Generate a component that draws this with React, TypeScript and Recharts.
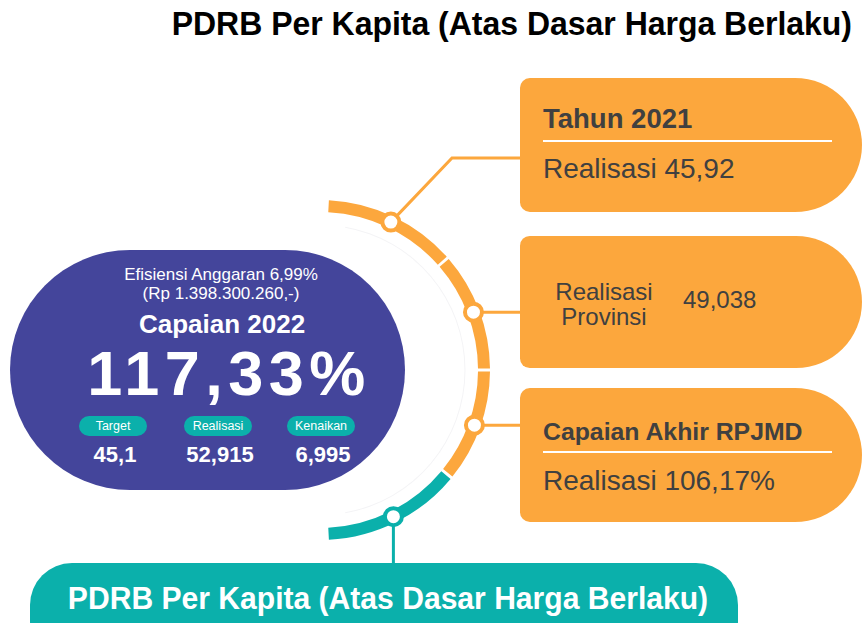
import React from "react";
import { PieChart, Pie, Cell } from "recharts";

// arc segments around the capsule (degrees of sweep each), top to bottom
const stages = ["Tahun 2021", "Realisasi Provinsi", "Capaian Akhir RPJMD", "PDRB Per Kapita"];
const arcSpans = [46, 41, 39, 48];

const titleText = "PDRB Per Kapita (Atas Dasar Harga Berlaku)";
const efisiensiLines = ["Efisiensi Anggaran 6,99%", "(Rp 1.398.300.260,-)"];
const capaianLabel = "Capaian 2022";
const capaianValue = "117,33%";
const tagLabels = ["Target", "Realisasi", "Kenaikan"];
const tagValues = ["45,1", "52,915", "6,995"];

const tahunLabel = "Tahun 2021";
const tahunValue = "Realisasi 45,92";
const provinsiLabel = ["Realisasi", "Provinsi"];
const provinsiValue = "49,038";
const rpjmdLabel = "Capaian Akhir RPJMD";
const rpjmdValue = "Realisasi 106,17%";

const ORANGE = "#fca73d";
const TEAL = "#0bb0ab";
const PURPLE = "#44459b";
const DARK = "#404040";
const arcColors = [ORANGE, ORANGE, ORANGE, TEAL];

const SANS = '"Liberation Sans", Arial, sans-serif';

// text placed by the centre of its capitals
function T({
  x,
  y,
  size,
  bold,
  color = "#fff",
  anchor = "start",
  spacing = 0,
  sx = 1,
  children,
}: {
  x: number;
  y: number;
  size: number;
  bold?: boolean;
  color?: string;
  anchor?: "start" | "middle" | "end";
  spacing?: number;
  sx?: number;
  children: React.ReactNode;
}) {
  const shift = anchor === "middle" ? "translateX(-50%)" : anchor === "end" ? "translateX(-100%)" : "";
  const origin = anchor === "middle" ? "center" : anchor === "end" ? "right" : "left";
  return (
    <div
      style={{
        position: "absolute",
        left: x,
        top: y - 0.49 * size,
        fontSize: size,
        lineHeight: 1,
        fontWeight: bold ? 700 : 400,
        color,
        fontFamily: SANS,
        whiteSpace: "nowrap",
        letterSpacing: spacing,
        transform: `${shift} scaleX(${sx})`,
        transformOrigin: origin,
      }}
    >
      {children}
    </div>
  );
}

function OrangeBox({ top, height }: { top: number; height: number }) {
  return (
    <div
      style={{
        position: "absolute",
        left: 520,
        top,
        width: 342,
        height,
        background: ORANGE,
        borderRadius: "10px 68px 68px 10px",
      }}
    />
  );
}

// node circle + connector drawn at each arc segment's middle
const renderNode = (props: any) => {
  const { cx, cy, midAngle, innerRadius, outerRadius, index } = props;
  const r = (innerRadius + outerRadius) / 2;
  const a = (-midAngle * Math.PI) / 180;
  const x = cx + r * Math.cos(a);
  const y = cy + r * Math.sin(a);
  const color = arcColors[index];
  let path = "";
  if (index === 0) path = `M${x},${y} L452,158 L520,158`;
  else if (index === 1 || index === 2) path = `M${x},${y} L520,${y}`;
  else path = `M${x},${y} L${x},566`;
  return (
    <g key={`node-${index}`}>
      <path d={path} stroke={color} strokeWidth={3} fill="none" />
      <circle cx={x} cy={y} r={8.5} fill="#fff" stroke={color} strokeWidth={4} />
    </g>
  );
};

export default function App() {
  const arcData = stages.map((name, i) => ({ name, span: arcSpans[i] }));
  const tagX = [113, 218, 321];

  return (
    <div
      style={{
        position: "absolute",
        left: 0,
        top: 0,
        width: 862,
        height: 623,
        overflow: "hidden",
        background: "#fff",
        fontFamily: SANS,
      }}
    >
      <T x={852} y={23} size={34} bold color="#000" anchor="end" sx={0.94}>
        {titleText}
      </T>

      {/* purple capsule */}
      <div
        style={{
          position: "absolute",
          left: 10,
          top: 250,
          width: 395,
          height: 240,
          background: PURPLE,
          borderRadius: "120px",
        }}
      />
      <T x={221} y={274} size={17} anchor="middle">{efisiensiLines[0]}</T>
      <T x={221} y={293} size={17} anchor="middle">{efisiensiLines[1]}</T>
      <T x={222} y={323.5} size={26} bold anchor="middle">{capaianLabel}</T>
      <T x={229} y={373} size={63} bold anchor="middle" spacing={5.5}>{capaianValue}</T>
      {tagLabels.map((t, i) => (
        <div
          key={t}
          style={{
            position: "absolute",
            left: tagX[i] - 34,
            top: 416,
            width: 68,
            height: 20,
            borderRadius: 10,
            background: TEAL,
          }}
        />
      ))}
      {tagLabels.map((t, i) => (
        <T key={`l-${t}`} x={tagX[i]} y={426} size={12.5} anchor="middle">{t}</T>
      ))}
      {tagValues.map((v, i) => (
        <T key={`v-${v}`} x={tagX[i] + 2} y={455} size={22} bold anchor="middle">{v}</T>
      ))}

      {/* orange boxes */}
      <OrangeBox top={78} height={134} />
      <OrangeBox top={236} height={132} />
      <OrangeBox top={388} height={134} />
      <div style={{ position: "absolute", left: 543, top: 140, width: 289, height: 2, background: "#fff" }} />
      <div style={{ position: "absolute", left: 543, top: 451, width: 289, height: 2, background: "#fff" }} />
      <T x={543} y={118} size={27.5} bold color={DARK}>{tahunLabel}</T>
      <T x={543} y={169} size={28} color={DARK}>{tahunValue}</T>
      <T x={604} y={292} size={24} color={DARK} anchor="middle">{provinsiLabel[0]}</T>
      <T x={604} y={317} size={24} color={DARK} anchor="middle">{provinsiLabel[1]}</T>
      <T x={683} y={300} size={24} color={DARK}>{provinsiValue}</T>
      <T x={543} y={432} size={24.8} bold color={DARK}>{rpjmdLabel}</T>
      <T x={543} y={481} size={28} color={DARK}>{rpjmdValue}</T>

      {/* teal bottom pill */}
      <div
        style={{
          position: "absolute",
          left: 30,
          top: 563,
          width: 708,
          height: 100,
          borderRadius: 42,
          background: TEAL,
        }}
      />
      <T x={388} y={598} size={32} bold anchor="middle" sx={0.94}>{titleText}</T>

      <div style={{ position: "absolute", left: 0, top: 0, pointerEvents: "none" }}>
        <PieChart width={862} height={623} margin={{ top: 0, right: 0, bottom: 0, left: 0 }}>
          <Pie
            data={[{ name: "halo", span: 1 }]}
            dataKey="span"
            cx={320}
            cy={370}
            innerRadius={144.5}
            outerRadius={145.5}
            startAngle={80}
            endAngle={-80}
            stroke="none"
            fill="#f4f4f6"
            isAnimationActive={false}
          />
          <Pie
            data={arcData}
            dataKey="span"
            nameKey="name"
            cx={320}
            cy={370}
            innerRadius={158}
            outerRadius={170}
            startAngle={87}
            endAngle={-87}
            paddingAngle={1}
            stroke="none"
            label={renderNode}
            labelLine={false}
            isAnimationActive={false}
          >
            {arcData.map((d, i) => (
              <Cell key={d.name} fill={arcColors[i]} />
            ))}
          </Pie>
        </PieChart>
      </div>
    </div>
  );
}
